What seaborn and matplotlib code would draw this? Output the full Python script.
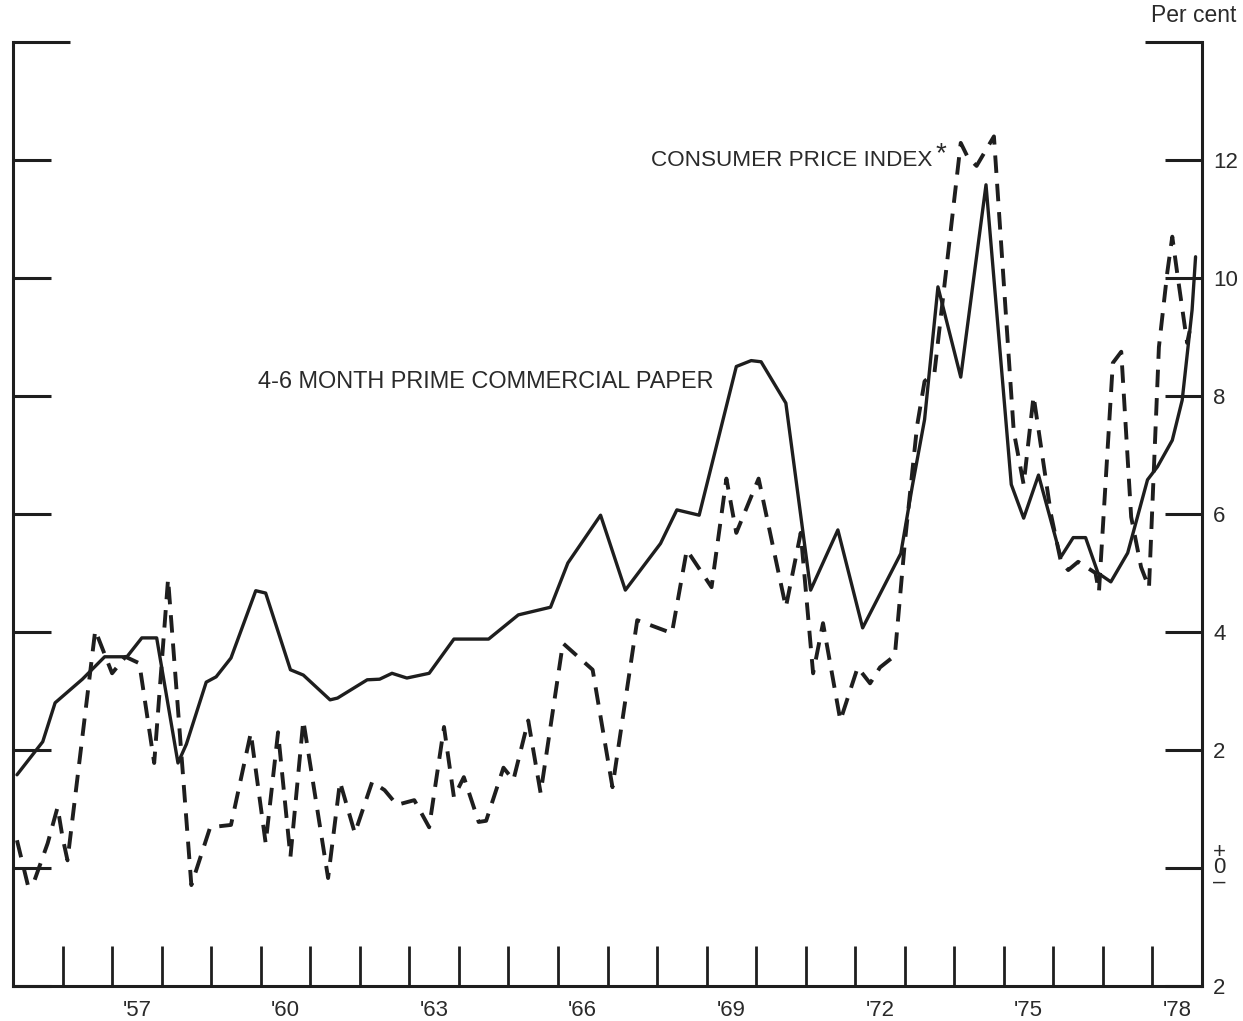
import matplotlib
matplotlib.use("Agg")
import matplotlib.pyplot as plt
import seaborn as sns
import pandas as pd
from matplotlib.ticker import FixedLocator

# 4-6 month prime commercial paper rate (per cent)
cp_dates = [1955.08, 1955.6, 1955.85, 1956.4, 1956.85, 1957.3, 1957.6, 1957.9,
            1958.33, 1958.5, 1958.9, 1959.1, 1959.4, 1959.9, 1960.1, 1960.6,
            1960.86, 1961.4, 1961.55, 1962.15, 1962.4, 1962.65, 1962.95, 1963.4,
            1963.9, 1964.6, 1965.2, 1965.45, 1965.85, 1966.2, 1966.86, 1967.36,
            1968.07, 1968.4, 1968.85, 1969.6, 1969.9, 1970.1, 1970.6, 1971.1,
            1971.65, 1972.15, 1972.92, 1973.15, 1973.4, 1973.67, 1974.13, 1974.64,
            1975.15, 1975.4, 1975.7, 1976.15, 1976.4, 1976.65, 1976.9, 1977.16,
            1977.5, 1977.9, 1978.1, 1978.4, 1978.6, 1978.8, 1978.87]
cp_rates = [1.58, 2.14, 2.8, 3.2, 3.58, 3.58, 3.9, 3.9,
            1.78, 2.1, 3.15, 3.24, 3.56, 4.7, 4.66, 3.36,
            3.27, 2.85, 2.88, 3.19, 3.2, 3.3, 3.22, 3.3,
            3.88, 3.88, 4.29, 4.34, 4.42, 5.17, 5.98, 4.71,
            5.5, 6.07, 5.98, 8.5, 8.6, 8.58, 7.88, 4.71,
            5.73, 4.07, 5.33, 6.46, 7.6, 9.85, 8.32, 11.58,
            6.5, 5.93, 6.66, 5.27, 5.6, 5.6, 5.0, 4.85,
            5.34, 6.58, 6.8, 7.25, 7.93, 9.46, 10.36]

# consumer price index, annual rate of change (per cent)
cpi_dates = [1955.08, 1955.3, 1955.4, 1955.7, 1955.9, 1956.0, 1956.1, 1956.66,
             1957.0, 1957.27, 1957.55, 1957.85, 1958.13, 1958.6, 1958.98, 1959.4,
             1959.8, 1960.1, 1960.35, 1960.6, 1960.86, 1961.36, 1961.6, 1961.9,
             1962.25, 1962.5, 1962.75, 1963.1, 1963.4, 1963.7, 1963.9, 1964.1,
             1964.4, 1964.55, 1964.9, 1965.1, 1965.4, 1965.65, 1966.1, 1966.7,
             1967.1, 1967.6, 1968.3, 1968.6, 1969.1, 1969.4, 1969.6, 1970.05,
             1970.6, 1970.9, 1971.15, 1971.35, 1971.7, 1972.05, 1972.3, 1972.5,
             1972.8, 1973.0, 1973.25, 1973.4, 1973.6, 1974.13, 1974.27, 1974.45,
             1974.8, 1975.2, 1975.4, 1975.6, 1975.95, 1976.15, 1976.3, 1976.5,
             1976.85, 1976.92, 1977.2, 1977.37, 1977.57, 1977.77, 1977.93, 1978.13,
             1978.3, 1978.4, 1978.5, 1978.7, 1978.75]
cpi_rates = [0.47, -0.29, -0.29, 0.42, 1.03, 0.52, 0.13, 4.03,
             3.3, 3.58, 3.47, 1.78, 4.9, -0.29, 0.69, 0.73,
             2.29, 0.42, 2.3, 0.19, 2.5, -0.17, 1.46, 0.59,
             1.46, 1.32, 1.07, 1.15, 0.69, 2.39, 1.2, 1.54,
             0.78, 0.8, 1.7, 1.49, 2.5, 1.27, 3.81, 3.36,
             1.37, 4.2, 3.98, 5.39, 4.76, 6.6, 5.68, 6.6,
             4.42, 5.68, 3.3, 4.15, 2.5, 3.4, 3.13, 3.4,
             3.6, 5.5, 7.5, 8.25, 8.4, 12.29, 12.05, 11.9,
             12.4, 7.4, 6.5, 8.0, 6.0, 5.2, 5.05, 5.19,
             5.0, 4.68, 8.56, 8.75, 5.95, 5.1, 4.75, 8.83,
             10.1, 10.7, 10.08, 8.9, 9.1]

year_ticks = list(range(1956, 1979))
year_label_pos = [1957.5, 1960.5, 1963.5, 1966.5, 1969.5, 1972.5, 1975.5, 1978.5]
year_labels = ["'57", "'60", "'63", "'66", "'69", "'72", "'75", "'78"]
y_ticks = [-2, 0, 2, 4, 6, 8, 10, 12]
y_labels = ["2", "+\n0\n\u2013", "2", "4", "6", "8", "10", "12"]

sns.set_style("white")
plt.rcParams['font.family'] = ['Liberation Sans', 'DejaVu Sans']

ink = "#1e1e1e"
cp_df = pd.DataFrame({"date": cp_dates, "rate": cp_rates})
cpi_df = pd.DataFrame({"date": cpi_dates, "rate": cpi_rates})

fig = plt.figure(figsize=(12.43, 10.21), dpi=100)
ax = fig.add_axes([0.01046, 0.03428, 0.95656, 0.92458])

sns.lineplot(data=cp_df, x="date", y="rate", ax=ax, color=ink, linewidth=2.4,
             estimator=None, sort=False)
sns.lineplot(data=cpi_df, x="date", y="rate", ax=ax, color=ink, linewidth=2.8,
             estimator=None, sort=False, linestyle=(0, (4.5, 2.8)))

ax.set_xlim(1955, 1979)
ax.set_ylim(-2, 14)
ax.set_xlabel("")
ax.set_ylabel("")

for side in ["left", "right", "bottom"]:
    ax.spines[side].set_linewidth(2.2)
    ax.spines[side].set_color(ink)
ax.spines["top"].set_visible(False)

# y axis: ticks on both sides pointing in, labels on the right
ax.set_yticks(y_ticks)
ax.set_yticklabels(y_labels)
ax.yaxis.set_minor_locator(FixedLocator([14]))
ax.yaxis.set_ticks_position("both")
ax.tick_params(axis="y", which="major", direction="in", length=27, width=2.2,
               color=ink, left=True, right=True, labelleft=False, labelright=True,
               labelsize=16, labelcolor="#2a2a2a", pad=8)
ax.tick_params(axis="y", which="minor", direction="in", length=41, width=2.2,
               color=ink, left=True, right=True, labelleft=False, labelright=False)
for lab in ax.get_yticklabels():
    lab.set_linespacing(0.62)

# x axis: year boundaries as ticks, labels in mid-year
ax.set_xticks(year_ticks)
ax.set_xticklabels([])
ax.set_xticks(year_label_pos, minor=True)
ax.set_xticklabels(year_labels, minor=True)
ax.tick_params(axis="x", which="major", direction="in", length=29, width=2.0,
               color=ink, bottom=True, top=False)
ax.tick_params(axis="x", which="minor", bottom=True, length=0, pad=10,
               labelsize=16, labelcolor="#2a2a2a", top=False)

ax.text(1973.55, 12.0, "CONSUMER PRICE INDEX", fontsize=16.2, color="#2a2a2a",
        ha="right", va="center")
ax.text(1973.62, 12.1, "*", fontsize=20, color="#2a2a2a", ha="left", va="center")
ax.text(1959.95, 8.25, "4-6 MONTH PRIME COMMERCIAL PAPER", fontsize=16.9,
        color="#2a2a2a", ha="left", va="center")
fig.text(0.995, 0.985, "Per cent", fontsize=16.5, color="#2a2a2a",
         ha="right", va="center")

fig.savefig("out.png", dpi=100)
